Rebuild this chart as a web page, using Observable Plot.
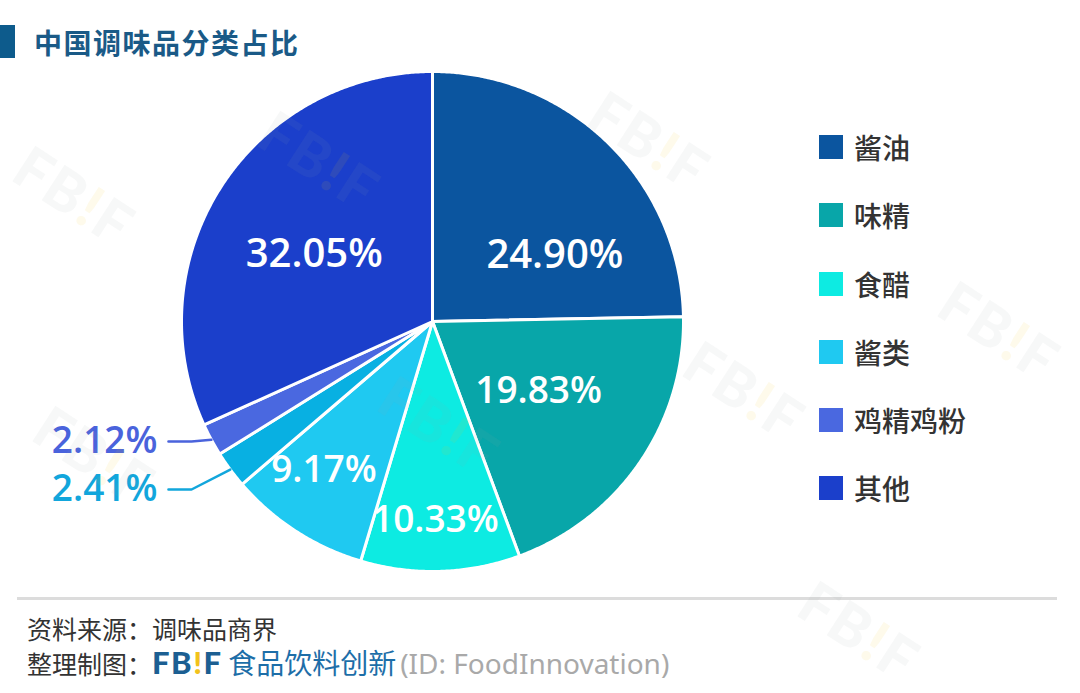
<!DOCTYPE html>
<html><head><meta charset="utf-8">
<script src="https://cdn.jsdelivr.net/npm/d3@7"></script>
<script src="https://cdn.jsdelivr.net/npm/@observablehq/plot@0.6"></script>
<style>
body{margin:0;background:#fff;width:1080px;height:693px;position:relative;overflow:hidden;font-family:"Noto Sans CJK SC","Noto Sans",sans-serif;}
#title{position:absolute;left:0;top:0;width:1080px;height:70px;}
#title .bar{position:absolute;left:0;top:25px;width:15px;height:33px;background:#0d5b8c;}
#title span{position:absolute;left:34px;top:22px;font-size:28px;line-height:40px;font-weight:700;color:#1a5a87;letter-spacing:1.5px;}
#chart{position:absolute;left:0;top:70px;}
#legend{position:absolute;left:819px;top:0;}
.li{position:absolute;left:0;width:240px;height:40px;}
.li .sw{position:absolute;left:0;top:8px;width:24px;height:24px;}
.li .lt{position:absolute;left:35px;top:0;font-size:28px;line-height:40px;color:#333;font-weight:500;}
#rule{position:absolute;left:17px;top:597px;width:1040px;height:3px;background:#dcdcdc;}
.ft{position:absolute;left:27px;font-size:25px;line-height:34px;color:#333;white-space:nowrap;}
.fbif{font-family:"Lato","Liberation Sans",sans-serif;font-weight:900;color:#1c5f92;font-size:31px;letter-spacing:1.5px;}
.fbif b{color:#f2c21b;}
.cn{color:#1d6ea8;font-size:28px;}
.id{color:#a9a9a9;font-size:28px;font-family:"Noto Sans","Noto Sans CJK SC",sans-serif;margin-left:4px;}
#wm{position:absolute;left:0;top:0;width:1080px;height:693px;pointer-events:none;}
.w{position:absolute;font-family:"Lato","Liberation Sans",sans-serif;font-weight:900;font-size:58px;color:rgba(150,160,172,0.08);transform:translate(-50%,-50%) rotate(33deg);white-space:nowrap;letter-spacing:2px;}
.w b{color:rgba(245,195,30,0.09);}
</style></head><body>
<div id="title"><div class="bar"></div><span>中国调味品分类占比</span></div>
<div id="chart"></div>
<div id="legend"></div>
<div id="rule"></div>
<div class="ft" style="top:611px">资料来源：调味品商界</div>
<div class="ft" style="top:645px">整理制图：<span class="fbif">FB<b>!</b>F</span> <span class="cn">食品饮料创新</span><span class="id">(ID: FoodInnovation)</span></div>
<div id="wm"></div>
<script>
// ---- data ----
const categories = ["酱油", "味精", "食醋", "酱类", "其他酱料", "鸡精鸡粉", "其他"];
const values = [24.90, 19.83, 10.33, 9.17, 2.41, 2.12, 32.05];
const colors = ["#0b559f", "#08a6a9", "#0debe2", "#1fc9f1", "#08b0e2", "#4a68e0", "#1b3fcb"];
const legendCategories = ["酱油", "味精", "食醋", "酱类", "鸡精鸡粉", "其他"];
const legendColors = ["#0b559f", "#08a6a9", "#0debe2", "#1fc9f1", "#4a68e0", "#1b3fcb"];
const outsideColors = {"其他酱料": "#12a6dc", "鸡精鸡粉": "#4a63dc"};

// ---- layout (label placement within slices) ----
const labelRadius = [0.555, 0.506, 0.796, 0.736, null, null, 0.543];
const labelTurn = [17, -1, 1, 3, 0, 0, -3];          // degrees
const labelSize = [40, 37, 37, 37, 37, 37, 40];
const outsideLabelY = {"其他酱料": -0.672, "鸡精鸡粉": -0.48};
const outsideTextX = -1.096, leaderStartX = -1.052, elbowX = -0.96;

const arcs = d3.pie().sort(null).value(d => d)(values);
const rad = Math.PI / 180;
const pt = (a, r) => [r * Math.sin(a), r * Math.cos(a)];

// slice polygons
const slicePts = [];
arcs.forEach((a, i) => {
  const n = Math.max(2, Math.ceil((a.endAngle - a.startAngle) / (0.4 * rad)));
  slicePts.push({name: categories[i], x: 0, y: 0, color: colors[i]});
  for (let k = 0; k <= n; k++) {
    const t = a.startAngle + (a.endAngle - a.startAngle) * k / n;
    const [x, y] = pt(t, 1);
    slicePts.push({name: categories[i], x, y, color: colors[i]});
  }
});

const fmt = v => v.toFixed(2) + "%";
const inside = [], outside = [], leaders = [];
arcs.forEach((a, i) => {
  const mid = (a.startAngle + a.endAngle) / 2;
  if (labelRadius[i] != null) {
    const [x, y] = pt(mid + labelTurn[i] * rad, labelRadius[i]);
    inside.push({x, y, label: fmt(values[i]), size: labelSize[i]});
  } else {
    const name = categories[i];
    const ly = outsideLabelY[name];
    const [ex, ey] = pt(mid, 1.0);
    outside.push({x: outsideTextX, y: ly, label: fmt(values[i]), color: outsideColors[name], size: labelSize[i]});
    leaders.push({name, x: leaderStartX, y: ly, color: outsideColors[name]});
    leaders.push({name, x: elbowX, y: ly, color: outsideColors[name]});
    leaders.push({name, x: ex, y: ey, color: outsideColors[name]});
  }
});

const numFont = "'Open Sans', Lato, sans-serif";
const chart = Plot.plot({
  width: 1080, height: 520,
  margin: 0,
  style: {background: "transparent", overflow: "visible"},
  x: {domain: [-1, 1], range: [181, 683], axis: null},
  y: {domain: [-1, 1], range: [501, 1], axis: null},
  color: {type: "identity"},
  marks: [
    Plot.line(slicePts, {x: "x", y: "y", z: "name", fill: "color", stroke: "white", strokeWidth: 3, strokeLinejoin: "round", curve: "linear-closed"}),
    Plot.line(leaders, {x: "x", y: "y", z: "name", stroke: "color", strokeWidth: 2.5}),
    Plot.text(inside, {x: "x", y: "y", text: "label", fill: "white", fontSize: "size", fontWeight: 600, fontFamily: numFont}),
    Plot.text(outside, {x: "x", y: "y", text: "label", fill: "color", textAnchor: "end", fontSize: "size", fontWeight: 600, fontFamily: numFont})
  ]
});
document.getElementById("chart").appendChild(chart);

// legend
const lg = document.getElementById("legend");
const legendY = [147, 215, 284, 352, 420, 488];
legendCategories.forEach((c, i) => {
  const d = document.createElement("div");
  d.className = "li";
  d.style.top = (legendY[i] - 20) + "px";
  d.innerHTML = `<div class="sw" style="background:${legendColors[i]}"></div><div class="lt">${c}</div>`;
  lg.appendChild(d);
});

// watermark
const wm = document.getElementById("wm");
[[75, 195], [320, 160], [650, 140], [745, 390], [1000, 330], [440, 425], [860, 630], [95, 455]].forEach(([l, t]) => {
  const s = document.createElement("div");
  s.className = "w";
  s.style.left = l + "px"; s.style.top = t + "px";
  s.innerHTML = "FB<b>!</b>F";
  wm.appendChild(s);
});
</script>
</body></html>
